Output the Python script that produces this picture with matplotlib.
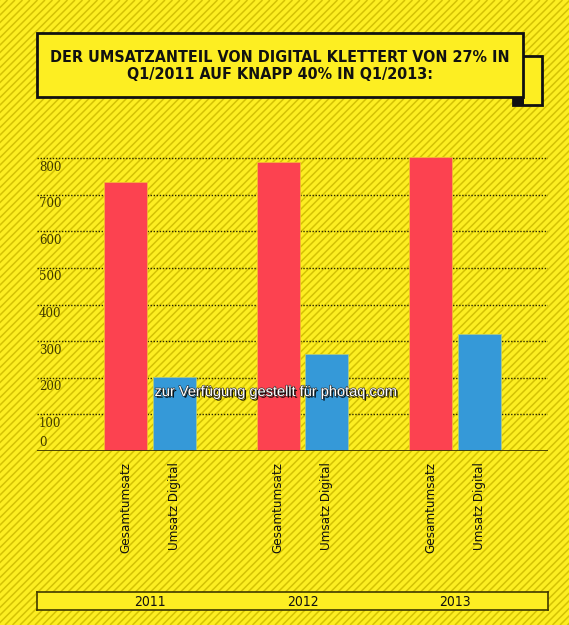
import numpy as np
import matplotlib.pyplot as plt
from matplotlib.patches import Rectangle, Polygon
from matplotlib.collections import LineCollection
import matplotlib.patheffects as pe
import matplotlib.transforms as mtransforms

# data (Mio EUR)
years = ['2011', '2012', '2013']
series_names = ['Gesamtumsatz', 'Umsatz Digital']
gesamt = [735, 790, 803]
digital = [202, 265, 320]
y_ticks = [0, 100, 200, 300, 400, 500, 600, 700, 800]
title = 'DER UMSATZANTEIL VON DIGITAL KLETTERT VON 27% IN\nQ1/2011 AUF KNAPP 40% IN Q1/2013:'
watermark = 'zur Verfügung gestellt für photaq.com'

W, H = 569, 625
yellow = '#fdee22'
stripe = '#d4c204'
red = '#fc4250'
blue = '#3599d8'
olive = '#403900'

fig = plt.figure(figsize=(W / 100, H / 100), dpi=100)

# background with diagonal stripes, pixel coordinates (y down)
bg = fig.add_axes([0, 0, 1, 1])
bg.set_xlim(0, W)
bg.set_ylim(H, 0)
bg.axis('off')
bg.add_patch(Rectangle((0, 0), W, H, facecolor=yellow, linewidth=0, zorder=0))
starts = np.arange(-H, W + 7.5, 7.5)
segs = [[(s, H), (s + H, 0)] for s in starts]
bg.add_collection(LineCollection(segs, colors=stripe, linewidths=1.1, zorder=0.5))

# title ribbon
bg.add_patch(Rectangle((513, 56), 29, 49, facecolor=yellow, edgecolor='#111111',
                       linewidth=2, zorder=3))
bg.add_patch(Polygon([(513, 97), (524, 97), (524, 105), (513, 105)], closed=True,
                     facecolor='#111111', edgecolor='none', zorder=3))
bg.add_patch(Rectangle((37, 33), 486, 64, facecolor=yellow, edgecolor='#111111',
                       linewidth=2, zorder=4))
bg.text(280, 66, title, ha='center', va='center', fontsize=11.5, fontweight='bold',
        family='DejaVu Sans', fontstretch='condensed', color='#111111',
        linespacing=1.1, zorder=5)

# main chart
px_per_unit = 152.5
x0 = -113 / px_per_unit
ax = fig.add_axes([37 / W, 1 - 451 / H, 511 / W, 311 / H])
ax.set_facecolor('none')
ax.set_xlim(x0, x0 + 511 / px_per_unit)
ax.set_ylim(0, 311 / 0.366)
for s in ax.spines.values():
    s.set_visible(False)

x = np.arange(len(years))
off = 0.16
bw = 0.282
ax.bar(x - off, gesamt, width=bw, color=red, edgecolor='#f7b43a', linewidth=0.6, zorder=3)
ax.bar(x + off, digital, width=bw, color=blue, edgecolor='#a9c88a', linewidth=0.6, zorder=3)

for v in y_ticks[1:]:
    ax.axhline(v, color='#2a2600', linestyle=(0, (1, 1.2)), linewidth=1.0, zorder=1)
ax.axhline(0, color=olive, linewidth=2, zorder=4)

ax.set_yticks([])
for v in y_ticks:
    dy = 8 if v == 0 else -9
    tr = ax.transData + mtransforms.ScaledTranslation(2 / 100, dy / 100, fig.dpi_scale_trans)
    ax.text(x0, v, str(v), transform=tr, ha='left', va='center', fontsize=8.5,
            family='DejaVu Serif', color=olive)

pos = np.concatenate([x - off, x + off])
labs = [series_names[0]] * 3 + [series_names[1]] * 3
ax.set_xticks(pos, labs, rotation=90, fontsize=9.5, family='DejaVu Sans',
              fontstretch='condensed', color='#111111')
ax.tick_params(axis='x', length=0, pad=8)

# year band at the bottom
yb = fig.add_axes([37 / W, 1 - 610 / H, 511 / W, 18 / H])
yb.set_facecolor(yellow)
yb.set_xlim(ax.get_xlim())
yb.set_ylim(0, 1)
yb.set_xticks([])
yb.set_yticks([])
for s in yb.spines.values():
    s.set_color(olive)
    s.set_linewidth(1.2)
for xi, yr in zip(x, years):
    yb.text(xi, 0.45, yr, ha='center', va='center', fontsize=10, family='DejaVu Sans',
            fontstretch='condensed', color='#111111')

# watermark on top of everything
fig.text(277 / W, 1 - 392 / H, watermark, ha='center', va='center', fontsize=10.5,
         family='Liberation Sans', color='white', zorder=10,
         path_effects=[pe.withSimplePatchShadow(offset=(1.2, -1.2), shadow_rgbFace='black', alpha=0.9),
                       pe.Stroke(linewidth=0.8, foreground='#222222'), pe.Normal()])

fig.savefig('out.png', dpi=100)
